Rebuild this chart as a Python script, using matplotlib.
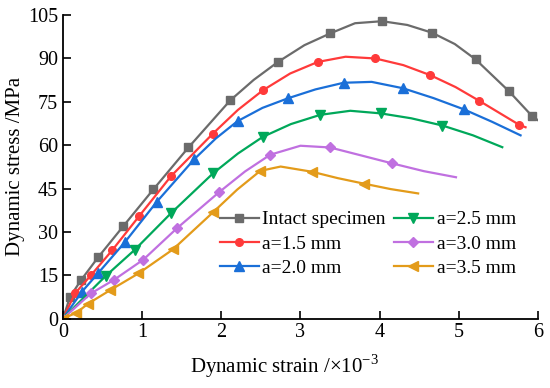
import matplotlib.pyplot as plt

plt.rcParams['font.family'] = ['Liberation Serif', 'DejaVu Serif']
plt.rcParams['mathtext.fontset'] = 'custom'
plt.rcParams['mathtext.rm'] = 'Liberation Serif'

labels = ["Intact specimen", "a=1.5 mm", "a=2.0 mm", "a=2.5 mm", "a=3.0 mm", "a=3.5 mm"]
colors = ["#6b6b6b", "#ff3a3a", "#1a6fd8", "#00a85a", "#c070e0", "#e39b1a"]
markers = ["s", "o", "^", "v", "D", "<"]

# strain (x10^-3) and stress (MPa);
# marks_* = indices of the points that carry a marker
strain_intact = [0, 0.089, 0.228, 0.447, 0.763, 1.142, 1.585, 2.113, 2.41, 2.716, 3.05, 3.378,
                 3.69, 4.032, 4.35, 4.664, 4.95, 5.212, 5.633, 5.929, 6.013]
stress_intact = [0, 7.5, 13.3, 21.3, 32.0, 44.7, 59.2, 75.5, 82.6, 88.8, 94.6, 98.7,
                 102.2, 102.9, 101.6, 98.9, 95.0, 89.7, 78.7, 70.0, 68.4]
marks_intact = [0, 1, 2, 3, 4, 5, 6, 7, 9, 11, 13, 15, 17, 18, 19]

strain_15 = [0, 0.152, 0.354, 0.624, 0.961, 1.366, 1.894, 2.21, 2.526, 2.87, 3.219, 3.57,
             3.947, 4.30, 4.643, 4.96, 5.262, 5.760, 5.844]
stress_15 = [0, 8.7, 15.0, 23.7, 35.4, 49.3, 64.0, 72.2, 79.0, 84.8, 88.8, 90.6,
             90.0, 87.7, 84.2, 80.1, 75.3, 67.1, 66.2]
marks_15 = [0, 1, 2, 3, 4, 5, 6, 8, 10, 12, 14, 16, 17]

strain_20 = [0, 0.237, 0.447, 0.784, 1.185, 1.657, 1.93, 2.205, 2.52, 2.840, 3.19, 3.546,
             3.90, 4.295, 4.68, 5.064, 5.42, 5.781]
stress_20 = [0, 9.2, 15.8, 26.5, 40.4, 55.1, 62.3, 68.3, 72.9, 76.2, 79.3, 81.6,
             81.9, 79.7, 76.3, 72.4, 68.1, 63.4]
marks_20 = [0, 1, 2, 3, 4, 5, 7, 9, 11, 13, 15]

strain_25 = [0, 0.2, 0.538, 0.907, 1.370, 1.894, 2.21, 2.526, 2.88, 3.251, 3.63, 4.014,
             4.40, 4.794, 5.18, 5.550]
stress_25 = [0, 5.5, 14.7, 23.8, 36.6, 50.2, 57.1, 62.9, 67.3, 70.5, 71.9, 71.0,
             69.3, 66.8, 63.4, 59.3]
marks_25 = [0, 2, 3, 4, 5, 7, 9, 11, 13]

strain_30 = [0, 0.354, 0.645, 1.016, 1.438, 1.971, 2.30, 2.619, 3.00, 3.374, 3.76, 4.158,
             4.56, 4.965]
stress_30 = [0, 8.7, 13.4, 20.4, 31.2, 43.7, 50.9, 56.7, 59.8, 59.2, 56.5, 53.7,
             51.0, 48.9]
marks_30 = [0, 1, 2, 3, 4, 5, 7, 9, 11]

strain_35 = [0, 0.17, 0.320, 0.595, 0.953, 1.388, 1.901, 2.20, 2.492, 2.75, 3.146, 3.47,
             3.799, 4.14, 4.487]
stress_35 = [0, 2.0, 5.2, 9.8, 15.6, 23.9, 36.9, 44.6, 51.1, 52.6, 50.8, 48.6,
             46.7, 44.8, 43.3]
marks_35 = [0, 1, 2, 3, 4, 5, 6, 8, 10, 12]

strains = [strain_intact, strain_15, strain_20, strain_25, strain_30, strain_35]
stresses = [stress_intact, stress_15, stress_20, stress_25, stress_30, stress_35]
marks = [marks_intact, marks_15, marks_20, marks_25, marks_30, marks_35]

fig = plt.figure(figsize=(5.5, 3.88), dpi=100)
ax = fig.add_axes([0.1145, 0.179, 0.8635, 0.782])

for x, y, m, mk, c, lab in zip(strains, stresses, marks, markers, colors, labels):
    ms = 5.5 if mk in ("o", "s", "D") else 6.5
    ax.plot(x, y, color=c, lw=1.6, marker=mk, ms=ms, markevery=m, label=lab)

ax.set_xlim(0, 6)
ax.set_ylim(0, 105)
ax.set_xticks(range(0, 7))
ax.set_yticks(range(0, 106, 15))
ax.tick_params(direction="in", length=6, width=1.2, labelsize=14.5)
for s in ["top", "right"]:
    ax.spines[s].set_visible(False)
for s in ["left", "bottom"]:
    ax.spines[s].set_linewidth(1.3)

ax.set_xlabel(r"Dynamic strain /×10$^{-3}$", fontsize=15, labelpad=9)
ax.xaxis.set_label_coords(0.467, -0.11)
ax.set_ylabel("Dynamic stress /MPa", fontsize=15, labelpad=2)

ax.legend(ncol=2, loc="upper left", bbox_to_anchor=(0.33, 0.355), frameon=False,
          fontsize=14, borderaxespad=0, borderpad=0, handlelength=2.0,
          handletextpad=0.2, columnspacing=0.4, labelspacing=0.35)

fig.savefig("out.png", dpi=100)
